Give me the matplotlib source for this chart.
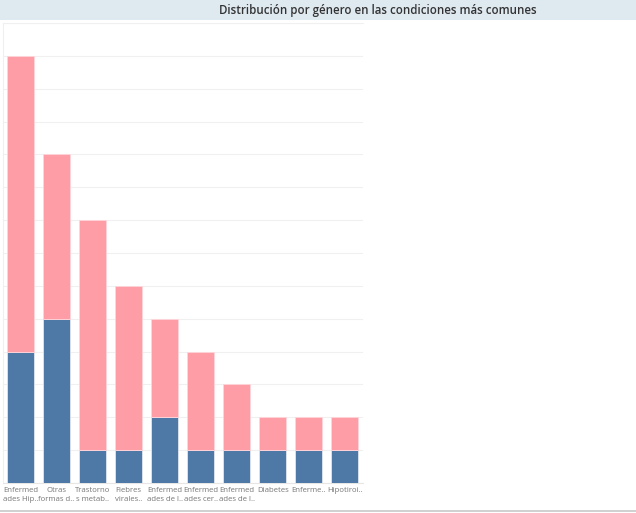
import matplotlib
matplotlib.use("Agg")
import matplotlib.pyplot as plt
from matplotlib.transforms import blended_transform_factory

categories = ["Enfermed\nades Hip..", "Otras\nformas d..", "Trastorno\ns metab..",
              "Fiebres\nvirales..", "Enfermed\nades de l..", "Enfermed\nades cer..",
              "Enfermed\nades de l..", "Diabetes", "Enferme..", "Hipotiroi.."]
male = [4, 5, 1, 1, 2, 1, 1, 1, 1, 1]
female = [9, 5, 7, 5, 3, 3, 2, 1, 1, 1]
title = "Distribución por género en las condiciones más comunes"

W, H = 636, 513
fig = plt.figure(figsize=(W / 100, H / 100), dpi=100)
fig.patch.set_facecolor("white")

# title band
band = fig.add_axes([0, 1 - 20 / H, 1, 20 / H])
band.set_facecolor("#dfe9f0")
band.set_xticks([]); band.set_yticks([])
for s in band.spines.values():
    s.set_visible(False)
fig.text(378 / W, 1 - 10.5 / H, title, ha="center", va="center",
         fontsize=8.3, color="#333333", family="Open Sans", fontweight="semibold")

ax = fig.add_axes([3 / W, (H - 483) / H, 360 / W, 460 / H])
x = list(range(len(categories)))
ax.bar(x, male, width=0.75, color="#4e79a7", edgecolor="#dfe6ee", linewidth=0.6, zorder=3)
ax.bar(x, female, bottom=male, width=0.75, color="#ff9da7", edgecolor="#ffd6db",
       linewidth=0.6, zorder=3)
ax.set_xlim(-0.485, len(categories) - 0.5)
ax.set_ylim(0, 14)
ax.set_yticks(range(0, 15))
ax.yaxis.grid(True, color="#f0f0f0", linewidth=0.8, zorder=0)
ax.tick_params(left=False, bottom=False, labelleft=False, labelbottom=False)
for k, s in ax.spines.items():
    s.set_visible(k in ("left", "top", "bottom"))
    s.set_color("#f0f0f0")
ax.spines["bottom"].set_color("#e6e6e6")

tr = blended_transform_factory(ax.transData, fig.transFigure)
for i, lab in enumerate(categories):
    ax.text(i, 1 - 487 / H, lab, transform=tr, ha="center", va="top",
            fontsize=5.6, color="#777777", linespacing=1.35, family="Open Sans")

# bottom divider line
fig.add_artist(plt.Line2D([0, 1], [1 - 511 / H, 1 - 511 / H], color="#c8c8c8",
                          linewidth=1.2, transform=fig.transFigure))

fig.savefig("out.png", dpi=100, facecolor="white")
